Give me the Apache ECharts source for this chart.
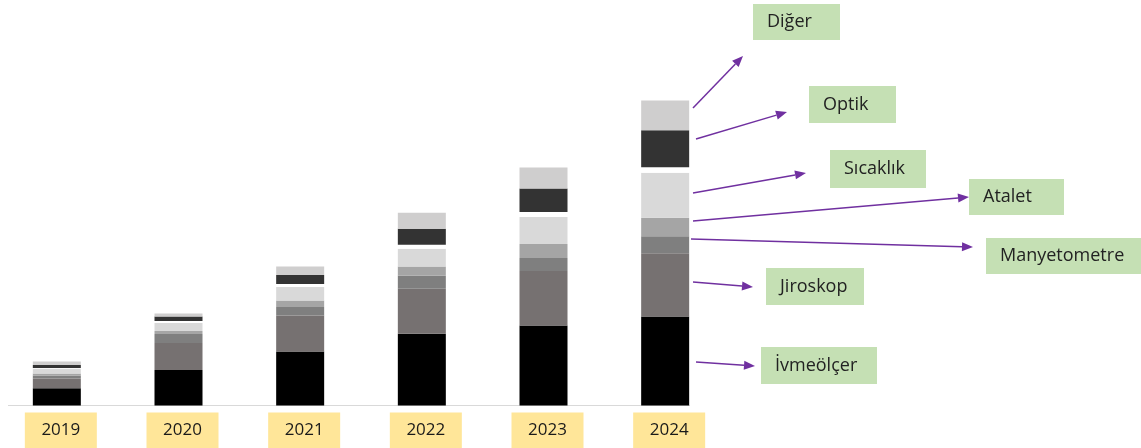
<!DOCTYPE html>
<html>
<head>
<meta charset="utf-8">
<script src="https://cdn.jsdelivr.net/npm/echarts@6/dist/echarts.min.js"></script>
<style>html,body{margin:0;padding:0;background:#fff}#c{width:1141px;height:448px}</style>
</head>
<body>
<div id="c"></div>
<script>
// ---- data (relative market size) ----
const years = ['2019', '2020', '2021', '2022', '2023', '2024'];
const ivmeolcer    = [17.3, 35.5, 54, 71.7, 80, 89];
const jiroskop     = [9.7, 27, 36, 45, 54.5, 63.3];
const manyetometre = [3, 9, 8.5, 13, 13, 17];
const atalet       = [2, 3, 6.5, 9.3, 14, 18.4];
const sicaklik     = [5, 8, 13.5, 17.7, 27, 45];
const bosluk       = [0.5, 2, 3, 4, 5, 5.6];
const optik        = [3, 4.5, 9, 16, 23.5, 37];
const diger        = [3.5, 3, 8.5, 16, 21, 29.7];
const seriesNames = ['İvmeölçer', 'Jiroskop', 'Manyetometre', 'Atalet', 'Sıcaklık', 'Boşluk', 'Optik', 'Diğer'];
const seriesData  = [ivmeolcer, jiroskop, manyetometre, atalet, sicaklik, bosluk, optik, diger];

// ---- styles ----
const colors = ['#000000', '#767171', '#7f7f7f', '#a5a5a5', '#d9d9d9', '#ffffff', '#333333', '#cfcece'];
const FONT = '"Open Sans", sans-serif';

// annotation boxes (labels for 2024 segments) and arrows
const notes = [
  { text: 'Diğer',        box: [753, 4, 87, 36],   from: [693, 108], to: [743, 56] },
  { text: 'Optik',        box: [809, 86, 87, 37],  from: [696, 139], to: [787, 112] },
  { text: 'Sıcaklık',     box: [830, 150, 96, 38], from: [693, 193], to: [806, 173] },
  { text: 'Atalet',       box: [969, 179, 95, 36], from: [693, 221], to: [969, 197] },
  { text: 'Manyetometre', box: [986, 238, 155, 36], from: [691, 239], to: [973, 247] },
  { text: 'Jiroskop',     box: [766, 268, 98, 37], from: [693, 282], to: [753, 287] },
  { text: 'İvmeölçer',    box: [761, 347, 116, 37], from: [696, 362], to: [755, 366] }
];

const graphics = [];
graphics.push({ type: 'line', shape: { x1: 8, y1: 405.5, x2: 690, y2: 405.5 }, style: { stroke: '#d9d9d9', lineWidth: 1 }, z: 1 });
notes.forEach(n => {
  const [x, y, w, h] = n.box;
  graphics.push({ type: 'rect', shape: { x, y, width: w, height: h }, style: { fill: '#c5e0b4' }, z: 10 });
  graphics.push({ type: 'text', x: x + 14, y: y + h / 2, style: { text: n.text, font: '18px ' + FONT, fill: '#222222', textVerticalAlign: 'middle', verticalAlign: 'middle' }, z: 11 });
  const [x1, y1] = n.from, [x2, y2] = n.to;
  const dx = x2 - x1, dy = y2 - y1, len = Math.hypot(dx, dy);
  const ux = dx / len, uy = dy / len;
  const hl = 11, hw = 4.5;
  const bx = x2 - ux * hl, by = y2 - uy * hl;
  graphics.push({ type: 'line', shape: { x1, y1, x2: bx, y2: by }, style: { stroke: '#7030a0', lineWidth: 1.5 }, z: 12 });
  graphics.push({ type: 'polygon', shape: { points: [[x2, y2], [bx - uy * hw, by + ux * hw], [bx + uy * hw, by - ux * hw]] }, style: { fill: '#7030a0' }, z: 12 });
});

const chart = echarts.init(document.getElementById('c'), null, { renderer: 'canvas' });
chart.setOption({
  animation: false,
  backgroundColor: '#ffffff',
  grid: { left: -4, width: 730, top: 5.5, height: 400, containLabel: false, outerBoundsMode: 'none' },
  xAxis: {
    type: 'category',
    data: years,
    axisLine: { show: false },
    axisTick: { show: false },
    axisLabel: {
      interval: 0,
      margin: 16,
      formatter: v => '{s|}{b|' + v + '}',
      rich: {
        s: { width: 8 },
        b: { width: 72, height: 20, lineHeight: 20, align: 'center', backgroundColor: '#ffe699', padding: [8, 0, 10, 0], fontFamily: FONT, fontSize: 17, color: '#1a1a1a' }
      }
    }
  },
  yAxis: { type: 'value', min: 0, max: 400, show: false },
  series: seriesNames.map((name, i) => ({
    name,
    type: 'bar',
    stack: 'total',
    barWidth: 48,
    data: seriesData[i],
    itemStyle: { color: colors[i] },
    silent: true
  })),
  graphic: graphics
});
</script>
</body>
</html>
